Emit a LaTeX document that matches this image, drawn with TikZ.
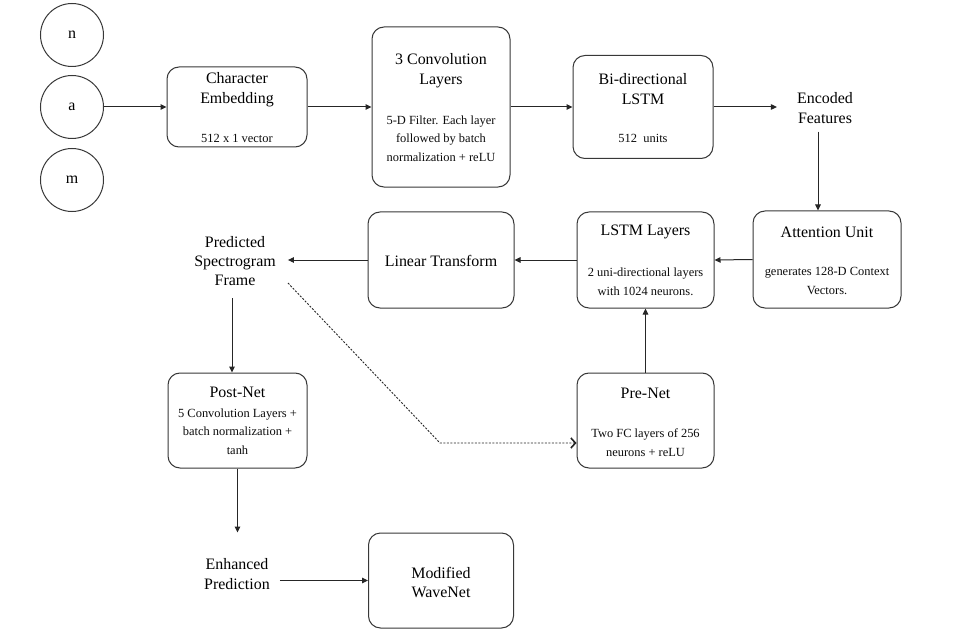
\documentclass[tikz,border=0pt]{standalone}
\usepackage{fontspec}
\IfFontExistsTF{LiberationSerif-Regular.ttf}{\setmainfont{LiberationSerif-Regular.ttf}}{\IfFontExistsTF{Liberation Serif}{\setmainfont{Liberation Serif}}{}}
\usetikzlibrary{arrows.meta}
\tikzset{
  box/.style={draw=black!78, line width=1bp, rounded corners=12bp, inner sep=0pt},
  circ/.style={draw=black!78, line width=1bp, circle, minimum size=63bp, inner sep=0pt, font=\fontsize{16}{19}\selectfont, text=black},
  ttl/.style={inner sep=0pt, align=center, font=\fontsize{16}{20}\selectfont, text=black},
  bdy/.style={inner sep=0pt, align=center, font=\fontsize{12.5}{18.8}\selectfont, text=black!95},
  free/.style={inner sep=0pt, align=center, font=\fontsize{16}{19.5}\selectfont, text=black},
  arr/.style={draw=black!85, line width=1bp, -{Triangle[length=6bp,width=5.5bp]}},
  darr/.style={draw=black!85, line width=0.9bp, dash pattern=on 2bp off 1.5bp, -{Straight Barb[length=4.5bp,width=10bp,line width=1.6bp]}}
}
\begin{document}
\begin{tikzpicture}[x=1bp,y=-1bp]
\useasboundingbox[fill=white] (0,0) rectangle (963,632);

% input characters
\node[circ] (cn) at (72,35) {n};
\node[circ] (ca) at (72,107) {a};
\node[circ] (cm) at (72,180) {m};

% boxes
\node[box, minimum width=140bp, minimum height=80bp] (emb) at (237,107) {};
\node[ttl] (embt) at (237,90) {Character\\Embedding};
\node[bdy] (embb) at (237,138) {512 x 1 vector};

\node[box, minimum width=138bp, minimum height=160bp] (conv) at (441,107) {};
\node[ttl] (convt) at (441,70.5) {3 Convolution\\Layers};
\node[bdy] (convb) at (441,138.5) {5-D Filter. Each layer\\followed by batch\\normalization + reLU};

\node[box, minimum width=140bp, minimum height=103bp] (bil) at (643,107) {};
\node[ttl] (bilt) at (643,89.5) {Bi-directional\\LSTM};
\node[bdy] (bilb) at (643,138) {512\ \ units};

\node[free, inner xsep=20bp, inner ysep=8bp] (enc) at (825,108) {Encoded\\Features};

\node[box, minimum width=148bp, minimum height=97bp] (att) at (827,259.5) {};
\node[ttl] (attt) at (827,232) {Attention Unit};
\node[bdy] (attb) at (827,281) {generates 128-D Context\\Vectors.};

\node[box, minimum width=137bp, minimum height=96bp] (lstm) at (645.5,260) {};
\node[ttl] (lstmt) at (645.5,232) {LSTM Layers};
\node[bdy] (lstmb) at (645.5,281.5) {2 uni-directional layers\\with 1024 neurons.};

\node[box, minimum width=146bp, minimum height=96bp] (lin) at (441,260) {};
\node[ttl] (lint) at (441,261) {Linear Transform};

\node[free, inner xsep=12bp, inner ysep=12bp] (pred) at (235,261) {Predicted\\Spectrogram\\Frame};

\node[box, minimum width=139bp, minimum height=95bp] (post) at (237.5,420.5) {};
\node[ttl] (postt) at (237.5,392) {Post-Net};
\node[bdy] (postb) at (237.5,431.5) {5 Convolution Layers +\\batch normalization +\\tanh};

\node[box, minimum width=137bp, minimum height=95bp] (pre) at (645.5,420.5) {};
\node[ttl] (pret) at (645.5,393) {Pre-Net};
\node[bdy] (preb) at (645.5,443) {Two FC layers of 256\\neurons + reLU};

\node[free, inner xsep=10bp, inner ysep=10bp] (enh) at (237,574) {Enhanced\\Prediction};

\node[box, minimum width=145bp, minimum height=95bp] (wave) at (441,580.5) {};
\node[ttl] (wavet) at (441,582.5) {Modified\\WaveNet};

% connectors
\draw[arr] (ca.east) -- (emb.west);
\draw[arr] (emb.east) -- (conv.west);
\draw[arr] (conv.east) -- (bil.west);
\draw[arr] (bil.east) -- (bil.east -| enc.west);
\draw[arr] ([xshift=-7bp]enc.south) -- ([xshift=-7bp]enc.south |- att.north);
\draw[arr] (att.west) -- (lstm.east);
\draw[arr] (lstm.west) -- (lin.east);
\draw[arr] (lin.west) -- (lin.west -| pred.east);
\draw[arr] ([xshift=-3bp]pred.south) -- ([xshift=-3bp]pred.south |- post.north);
\draw[arr] (pre.north) -- (lstm.south);
\draw[arr] (post.south) -- (post.south |- wave.north);
\draw[arr] (enh.east |- wave.west) -- (wave.west);

\coordinate (dstart) at (288,283);
\coordinate (dbend) at (440,443);
\draw[darr] (dstart) -- (dbend) -- (pre.west |- dbend);
\end{tikzpicture}
\end{document}
